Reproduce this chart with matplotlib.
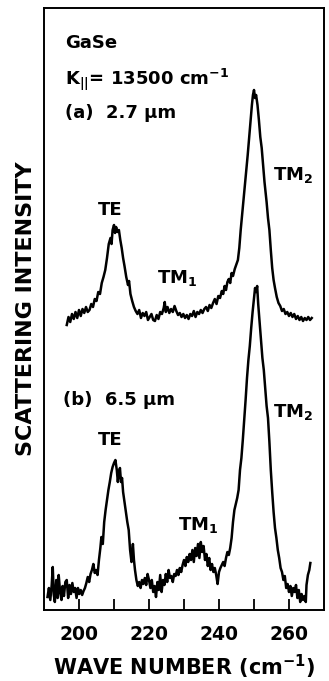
import matplotlib
matplotlib.use("Agg")
import matplotlib.pyplot as plt

# spectrum (a) 2.7 um : wave number (cm-1) and intensity (arb. units)
wn_a = [196.5, 197.0, 197.5, 198.0, 198.5, 199.0, 199.5, 200.0, 200.5, 201.0,
        201.5, 202.0, 202.5, 203.0, 203.5, 204.0, 204.5, 205.0, 205.5, 206.0,
        206.5, 207.0, 207.5, 208.0, 208.5, 209.0, 209.3, 209.6, 210.0, 210.3,
        210.6, 211.0, 211.4, 211.8, 212.2, 212.6, 213.0, 213.5, 214.0, 214.3,
        214.7, 215.2, 215.7, 216.2, 216.7, 217.2, 217.7, 218.2, 218.7, 219.2,
        219.7, 220.2, 220.7, 221.2, 221.7, 222.2, 222.7, 223.2, 223.7, 224.2,
        224.5, 224.8, 225.3, 225.8, 226.3, 226.8, 227.3, 227.8, 228.3, 228.8,
        229.3, 229.8, 230.3, 230.8, 231.3, 231.8, 232.3, 232.8, 233.3, 233.8,
        234.3, 234.8, 235.3, 235.8, 236.3, 236.8, 237.3, 237.8, 238.3, 238.8,
        239.3, 239.8, 240.3, 240.8, 241.2, 241.6, 242.0, 242.4, 242.8, 243.2,
        243.6, 244.0, 244.5, 245.0, 245.4, 245.8, 246.2, 246.6, 247.0, 247.4,
        247.8, 248.2, 248.6, 249.0, 249.4, 249.7, 250.0, 250.3, 250.6, 251.0,
        251.4, 251.8, 252.2, 252.6, 253.0, 253.3, 253.6, 254.0, 254.4, 254.8,
        255.2, 255.6, 256.0, 256.5, 257.0, 257.5, 258.0, 258.5, 259.0, 259.5,
        260.0, 260.5, 261.0, 261.5, 262.0, 262.5, 263.0, 263.5, 264.0, 264.5,
        265.0, 265.5, 266.0, 266.5]
int_a = [285, 293, 288, 296, 291, 298, 292, 300, 294, 301,
         297, 303, 298, 300, 306, 303, 311, 309, 318, 316,
         327, 333, 340, 352, 366, 372, 366, 380, 385, 377,
         383, 378, 380, 370, 362, 352, 344, 333, 325, 329,
         316, 309, 303, 299, 296, 300, 292, 297, 294, 298,
         290, 293, 296, 290, 289, 295, 291, 298, 296, 302,
         308, 298, 303, 297, 301, 298, 304, 299, 295, 297,
         293, 296, 292, 295, 291, 296, 294, 299, 293, 298,
         296, 300, 297, 301, 303, 299, 305, 302, 307, 311,
         306, 314, 312, 319, 316, 324, 320, 328, 331, 327,
         337, 334, 341, 346, 350, 362, 380, 395, 410, 425,
         440, 455, 472, 490, 505, 515, 520, 512, 515, 505,
         490, 473, 462, 445, 428, 418, 408, 392, 380, 360,
         342, 330, 322, 313, 307, 304, 299, 301, 296, 298,
         294, 297, 293, 296, 291, 294, 290, 293, 289, 292,
         290, 293, 290, 292]

# spectrum (b) 6.5 um
wn_b = [191.0, 191.4, 191.8, 192.2, 192.5, 192.8, 193.1, 193.5, 193.9, 194.2,
        194.6, 195.0, 195.3, 195.7, 196.1, 196.5, 196.9, 197.3, 197.7, 198.1,
        198.5, 198.9, 199.3, 199.7, 200.1, 200.5, 200.9, 201.3, 201.7, 202.1,
        202.5, 202.9, 203.3, 203.7, 204.1, 204.5, 204.9, 205.3, 205.7, 206.1,
        206.4, 206.8, 207.2, 207.6, 208.0, 208.4, 208.8, 209.2, 209.6, 210.0,
        210.4, 210.8, 211.1, 211.4, 211.7, 212.0, 212.3, 212.6, 213.0, 213.4,
        213.8, 214.2, 214.6, 215.0, 215.4, 215.7, 216.0, 216.4, 216.8, 217.2,
        217.6, 218.0, 218.4, 218.8, 219.2, 219.6, 220.0, 220.4, 220.8, 221.2,
        221.6, 222.0, 222.4, 222.8, 223.2, 223.6, 224.0, 224.4, 224.8, 225.2,
        225.6, 226.0, 226.4, 226.8, 227.2, 227.6, 228.0, 228.4, 228.8, 229.2,
        229.6, 230.0, 230.4, 230.8, 231.2, 231.6, 232.0, 232.4, 232.8, 233.2,
        233.6, 234.0, 234.4, 234.8, 235.2, 235.6, 236.0, 236.4, 236.8, 237.2,
        237.6, 238.0, 238.4, 238.8, 239.2, 239.6, 240.0, 240.4, 240.8, 241.2,
        241.6, 242.0, 242.4, 242.8, 243.2, 243.6, 244.0, 244.4, 244.8, 245.2,
        245.6, 246.0, 246.4, 246.8, 247.2, 247.6, 248.0, 248.4, 248.8, 249.2,
        249.6, 250.0, 250.3, 250.6, 250.9, 251.2, 251.6, 252.0, 252.4, 252.8,
        253.2, 253.6, 254.0, 254.4, 254.8, 255.2, 255.6, 256.0, 256.4, 256.8,
        257.2, 257.6, 258.0, 258.4, 258.8, 259.2, 259.6, 260.0, 260.4, 260.8,
        261.2, 261.6, 262.0, 262.4, 262.8, 263.2, 263.6, 264.0, 264.4, 264.8,
        265.0, 265.4, 265.8, 266.1]
int_b = [13, 22, 10, 25, 43, 15, 8, 30, 12, 35,
         18, 10, 24, 14, 28, 30, 12, 25, 16, 27,
         18, 22, 12, 22, 16, 20, 15, 19, 22, 27,
         33, 28, 36, 40, 46, 37, 40, 35, 50, 62,
         73, 66, 88, 100, 110, 120, 128, 137, 143, 147,
         150, 140, 128, 138, 142, 128, 132, 118, 108, 98,
         88, 80, 60, 48, 66, 50, 40, 30, 24, 28,
         22, 30, 26, 32, 25, 36, 30, 22, 30, 18,
         24, 13, 28, 20, 35, 18, 30, 25, 36, 28,
         40, 32, 34, 28, 36, 34, 40, 35, 42, 38,
         45, 50, 44, 53, 48, 56, 50, 60, 48, 62,
         54, 66, 52, 68, 58, 64, 50, 56, 44, 52,
         40, 46, 38, 42, 35, 26, 38, 42, 45, 48,
         44, 52, 58, 55, 62, 72, 88, 100, 106, 112,
         120, 140, 152, 170, 190, 210, 232, 250, 264, 282,
         298, 312, 322, 318, 324, 306, 288, 270, 252, 240,
         222, 204, 192, 168, 140, 118, 98, 82, 72, 60,
         52, 42, 38, 30, 34, 22, 26, 18, 24, 14,
         22, 18, 25, 12, 20, 8, 16, 10, 14, 8,
         25, 35, 40, 47]

x_ticks = [200, 220, 240, 260]
x_minor = [210, 230, 250]

plt.rcParams['font.family'] = ['DejaVu Sans']
plt.rcParams['font.weight'] = 'bold'
plt.rcParams['axes.labelweight'] = 'bold'
plt.rcParams['mathtext.fontset'] = 'dejavusans'
plt.rcParams['mathtext.default'] = 'bf'

fig = plt.figure(figsize=(3.29, 6.81), dpi=100)
ax = fig.add_axes([44 / 329, 71 / 681, 280 / 329, 602 / 681])

ax.plot(wn_a, int_a, color='black', lw=1.8)
ax.plot(wn_b, int_b, color='black', lw=1.8)

ax.set_xlim(190, 270)
ax.set_ylim(0, 602)
ax.set_xticks(x_ticks)
ax.set_xticks(x_minor, minor=True)
ax.set_yticks([])
ax.tick_params(axis='x', which='both', direction='in', length=8, width=1.3,
               labelsize=13.5, pad=11)
for s in ax.spines.values():
    s.set_linewidth(1.4)

ax.set_xlabel('WAVE NUMBER (cm$^{-1}$)', fontsize=15, labelpad=6)
ax.set_ylabel('SCATTERING INTENSITY', fontsize=16, labelpad=6)

fs = 13
ax.text(195.9, 567, 'GaSe', fontsize=fs, va='center')
ax.text(195.9, 530, 'K$_{||}$= 13500 cm$^{-1}$', fontsize=fs, va='center')
ax.text(195.9, 497, '(a)  2.7 μm', fontsize=fs, va='center')
ax.text(208.8, 400, 'TE', fontsize=fs, ha='center', va='center')
ax.text(222.2, 327, 'TM$_1$', fontsize=fs, va='baseline')
ax.text(255.3, 430, 'TM$_2$', fontsize=fs, va='baseline')

ax.text(195.3, 210, '(b)  6.5 μm', fontsize=fs, va='center')
ax.text(208.8, 170, 'TE', fontsize=fs, ha='center', va='center')
ax.text(228.2, 80, 'TM$_1$', fontsize=fs, va='baseline')
ax.text(255.3, 193, 'TM$_2$', fontsize=fs, va='baseline')

fig.savefig('out.png', dpi=100)
